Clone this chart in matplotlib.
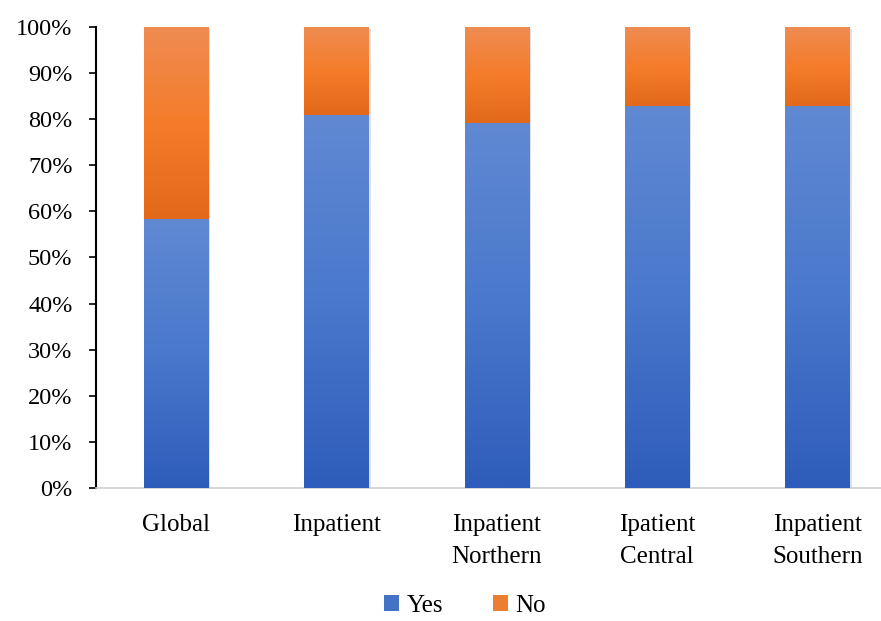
import numpy as np
import matplotlib.pyplot as plt
from matplotlib.colors import LinearSegmentedColormap
from matplotlib.ticker import PercentFormatter

# Datos del gráfico
categorias = ['Global', 'Inpatient', 'Inpatient\nNorthern', 'Ipatient\nCentral', 'Inpatient\nSouthern']
si = [58.3, 80.9, 79.2, 82.9, 82.9]
no = [100 - v for v in si]

plt.rcParams['font.family'] = ['Liberation Serif', 'DejaVu Serif']

fig = plt.figure(figsize=(8.81, 6.21), dpi=100)
ax = fig.add_axes([0.109, 0.2142, 0.910, 0.7423])

x = np.arange(len(categorias))
ancho = 0.4

azul = LinearSegmentedColormap.from_list('azul', ['#2e5cba', '#4a78cc', '#6089d2'])
naranja = LinearSegmentedColormap.from_list('naranja', ['#e2691a', '#f47c2a', '#ef8c52'])

barras_si = ax.bar(x, si, ancho, color='#4472c4', label='Yes', zorder=2)
barras_no = ax.bar(x, no, ancho, bottom=si, color='#ed7d31', label='No', zorder=2)

# Relleno degradado al estilo Excel
grad = np.linspace(0, 1, 256).reshape(-1, 1)
for barras, cmap in [(barras_si, azul), (barras_no, naranja)]:
    for b in barras:
        x0, y0 = b.get_x(), b.get_y()
        w, h = b.get_width(), b.get_height()
        # sombra suave
        ax.bar(x0 + w / 2 + 0.012, h, w, bottom=y0 - 0.4, color='#000000', alpha=0.12, zorder=1.5)
        ax.imshow(grad, extent=(x0, x0 + w, y0, y0 + h), origin='lower', cmap=cmap,
                  aspect='auto', zorder=3)

ax.set_xlim(-0.5, len(categorias) - 0.5)
ax.set_ylim(0, 100)
ax.set_yticks(np.arange(0, 101, 10))
ax.yaxis.set_major_formatter(PercentFormatter(decimals=0))
ax.set_xticks(x)
ax.set_xticklabels(categorias, fontsize=18, linespacing=1.55)
ax.tick_params(axis='x', length=0, pad=19)
ax.tick_params(axis='y', labelsize=17.5, length=5, width=1.2, direction='out', pad=12)

for lado in ['top', 'right']:
    ax.spines[lado].set_visible(False)
ax.spines['left'].set_linewidth(1.5)
ax.spines['left'].set_color('black')
ax.spines['bottom'].set_color('#d0d0d0')
ax.spines['bottom'].set_linewidth(1.2)

ax.legend(loc='lower center', bbox_to_anchor=(0.528, -0.03), bbox_transform=fig.transFigure,
          ncol=2, frameon=False, fontsize=18, handlelength=0.6, handleheight=0.6,
          handletextpad=0.3, columnspacing=2.0)

fig.savefig('out.png', dpi=100)
